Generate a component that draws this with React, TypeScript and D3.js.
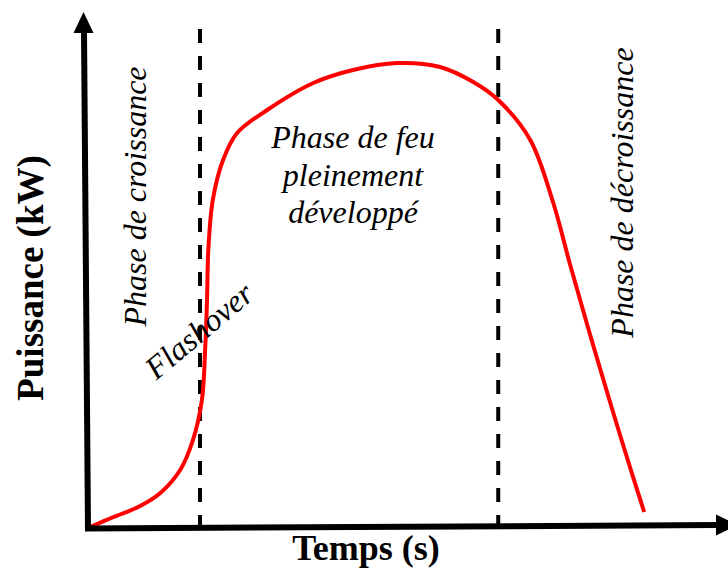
import React from "react";
import * as d3 from "d3";

// Heat release rate curve (arbitrary units)
const timeValues = [0, 4.0, 8.0, 11.3, 14.4, 16.4, 17.8, 18.3, 18.6, 18.8, 19.5, 21.1, 23.3, 28.0, 35.2, 41.4, 48.3, 55.0, 60.2, 64.1, 69.1, 72.7, 75.3, 78.1, 81.1, 83.9, 86.9];
const powerValues = [0, 2.2, 4.3, 7.0, 11.6, 17.6, 25.6, 35.6, 45.6, 55.6, 65.6, 73.6, 79.0, 83.6, 89.0, 91.6, 93.0, 92.2, 89.2, 85.6, 77.6, 65.0, 52.8, 40.2, 27.2, 15.4, 3.2];
// Phase boundaries (time units)
const phaseBoundaries = [17.5, 64.1];
const xAxisLabel = "Temps (s)";
const yAxisLabel = "Puissance (kW)";
const growthLabel = "Phase de croissance";
const decayLabel = "Phase de décroissance";
const flashoverLabel = "Flashover";
const fullyDevelopedLines = ["Phase de feu", "pleinement", "développé"];

const W = 728;
const H = 571;
const SERIF = "'Liberation Serif', 'Times New Roman', Times, serif";

export default function App() {
  const x = d3.scaleLinear().domain([0, 100]).range([88, 728]);
  const y = d3.scaleLinear().domain([0, 100]).range([528, 28]);

  const data = timeValues.map((t, i) => ({ t, p: powerValues[i] }));
  const line = d3
    .line<{ t: number; p: number }>()
    .x((d) => x(d.t))
    .y((d) => y(d.p))
    .curve(d3.curveCatmullRom.alpha(0.5));

  const x0 = x(0);
  const y0 = y(0);

  return (
    <svg
      width={W}
      height={H}
      style={{ position: "absolute", left: 0, top: 0, background: "#fff" }}
    >
      <rect width={W} height={H} fill="#fff" />
      {/* phase boundaries */}
      {phaseBoundaries.map((b, i) => (
        <line
          key={i}
          x1={x(b)}
          x2={x(b)}
          y1={29}
          y2={y0}
          stroke="#000"
          strokeWidth={4}
          strokeDasharray="14 13"
        />
      ))}
      {/* curve */}
      <path d={line(data) || ""} fill="none" stroke="#ff0000" strokeWidth={4} />
      {/* y axis */}
      <line x1={x0} y1={y0 + 3} x2={x0 - 4} y2={31} stroke="#000" strokeWidth={6} />
      <path d={`M ${x0 - 4.5} 12 L ${x0 - 14.5} 33 L ${x0 + 5.5} 33 Z`} fill="#000" />
      {/* x axis */}
      <line x1={x0 - 3} y1={y0 + 0.5} x2={718} y2={525} stroke="#000" strokeWidth={6} />
      <path d={`M 738 525 L 716 514.5 L 716 535.5 Z`} fill="#000" />
      {/* axis labels */}
      <text
        x={366}
        y={560}
        textAnchor="middle"
        fontFamily={SERIF}
        fontWeight="bold"
        fontSize={36}
      >
        {xAxisLabel}
      </text>
      <text
        transform="translate(43,278) rotate(-90)"
        textAnchor="middle"
        fontFamily={SERIF}
        fontWeight="bold"
        fontSize={37}
      >
        {yAxisLabel}
      </text>
      {/* phase labels */}
      <text
        transform="translate(146,196.5) rotate(-90)"
        textAnchor="middle"
        fontFamily={SERIF}
        fontStyle="italic"
        fontSize={32}
      >
        {growthLabel}
      </text>
      <text
        transform="translate(633,192.5) rotate(-90)"
        textAnchor="middle"
        fontFamily={SERIF}
        fontStyle="italic"
        fontSize={32}
      >
        {decayLabel}
      </text>
      <text
        transform="translate(206,339) rotate(-40)"
        textAnchor="middle"
        fontFamily={SERIF}
        fontStyle="italic"
        fontSize={32}
      >
        {flashoverLabel}
      </text>
      {fullyDevelopedLines.map((s, i) => (
        <text
          key={i}
          x={353}
          y={148 + i * 37.5}
          textAnchor="middle"
          fontFamily={SERIF}
          fontStyle="italic"
          fontSize={32}
        >
          {s}
        </text>
      ))}
    </svg>
  );
}
